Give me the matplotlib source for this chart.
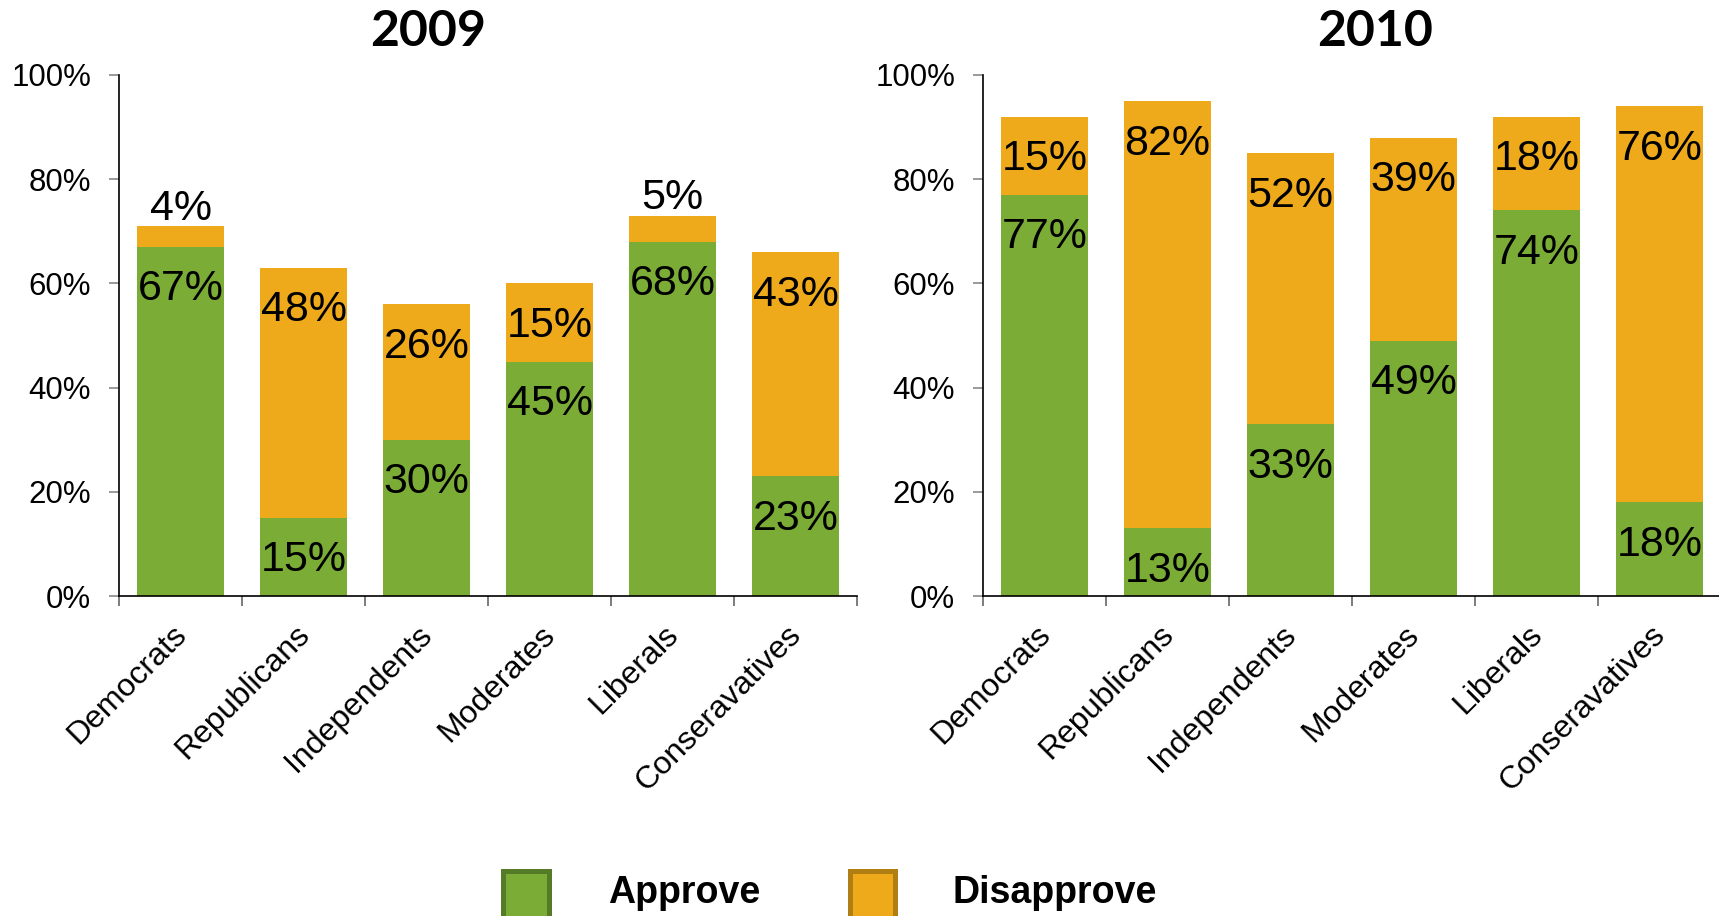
import matplotlib
matplotlib.use("Agg")
import matplotlib.pyplot as plt
from matplotlib.patches import Rectangle
from matplotlib.transforms import ScaledTranslation
import numpy as np

categories = ["Democrats", "Republicans", "Independents", "Moderates", "Liberals", "Conseravatives"]
approve_2009 = [67, 15, 30, 45, 68, 23]
disapprove_2009 = [4, 48, 26, 15, 5, 43]
approve_2010 = [77, 13, 33, 49, 74, 18]
disapprove_2010 = [15, 82, 52, 39, 18, 76]
years = ["2009", "2010"]
yticks = [0, 20, 40, 60, 80, 100]
series_names = ["Approve", "Disapprove"]

GREEN = "#7AAC36"
ORANGE = "#EEAA1A"
GREEN_EDGE = "#557A28"
ORANGE_EDGE = "#B07E12"

plt.rcParams['font.family'] = ['Liberation Sans', 'DejaVu Sans']

W, H = 1719, 916
fig = plt.figure(figsize=(W / 100, H / 100), dpi=100)

def fx(px):
    return px / W

def fy(py):
    return 1 - py / H

axes_px = [(119, 857), (983, 1721)]
top_px, bot_px = 75, 596

data = [(approve_2009, disapprove_2009), (approve_2010, disapprove_2010)]
title_x = [428, 1375]

for i, ((x0, x1), (app, dis)) in enumerate(zip(axes_px, data)):
    ax = fig.add_axes([fx(x0), fy(bot_px), fx(x1) - fx(x0), fy(top_px) - fy(bot_px)])
    x = np.arange(len(categories))
    ax.bar(x, app, width=0.715, color=GREEN, zorder=2)
    ax.bar(x, dis, width=0.715, bottom=app, color=ORANGE, zorder=2)
    ax.set_xlim(-0.5, len(categories) - 0.5)
    ax.set_ylim(0, 100)
    for s in ["top", "right"]:
        ax.spines[s].set_visible(False)
    ax.spines["left"].set_color("black")
    ax.spines["bottom"].set_color("black")
    ax.spines["left"].set_linewidth(1.2)
    ax.spines["bottom"].set_linewidth(1.2)
    ax.set_yticks(yticks)
    ax.set_yticklabels([f"{v}%" for v in yticks])
    ax.tick_params(axis="y", length=7, width=1.2, color="#888888", pad=13,
                   labelsize=22.5, direction="out")
    ax.set_xticks(np.arange(-0.5, len(categories), 1.0))
    ax.set_xticklabels([])
    ax.set_xticks(x, minor=True)
    ax.set_xticklabels(categories, minor=True, rotation=45, ha="right", va="top",
                       fontsize=23)
    ax.tick_params(axis="x", which="major", length=7, width=1.2, color="#666666",
                   direction="out")
    ax.tick_params(axis="x", which="minor", length=0, pad=17)
    for lab in ax.get_xticklabels(minor=True):
        lab.set_transform(lab.get_transform() + ScaledTranslation(0.12, 0, fig.dpi_scale_trans))
    # labels
    for j in range(len(categories)):
        a, d = app[j], dis[j]
        ax.annotate(f"{a}%", (x[j], a), xytext=(0, -38.5), textcoords="offset points",
                    ha="center", va="baseline", fontsize=31, zorder=3)
        if d < 10:
            ax.annotate(f"{d}%", (x[j], a + d), xytext=(0, 4.7), textcoords="offset points",
                        ha="center", va="baseline", fontsize=31, zorder=3)
        else:
            ax.annotate(f"{d}%", (x[j], a + d), xytext=(0, -38.5), textcoords="offset points",
                        ha="center", va="baseline", fontsize=31, zorder=3)
    fig.text(fx(title_x[i]), fy(31), years[i], ha="center", va="center",
             fontsize=36, fontweight="bold", family=["Lato", "DejaVu Sans"])

# legend
legend_items = [(500, 551, 608, GREEN, GREEN_EDGE, series_names[0]),
                (847, 897, 952, ORANGE, ORANGE_EDGE, series_names[1])]
for sx0, sx1, tx, fc, ec, lab in legend_items:
    r = Rectangle((fx(sx0 + 2.5), fy(920)), fx(sx1 - sx0 - 5), fy(870.5) - fy(920),
                  transform=fig.transFigure, facecolor=fc, edgecolor=ec,
                  linewidth=3.6, clip_on=False)
    fig.add_artist(r)
    fig.text(fx(tx), fy(903), lab, ha="left", va="baseline", fontsize=27,
             fontweight="bold")

fig.savefig("out.png", dpi=100)
